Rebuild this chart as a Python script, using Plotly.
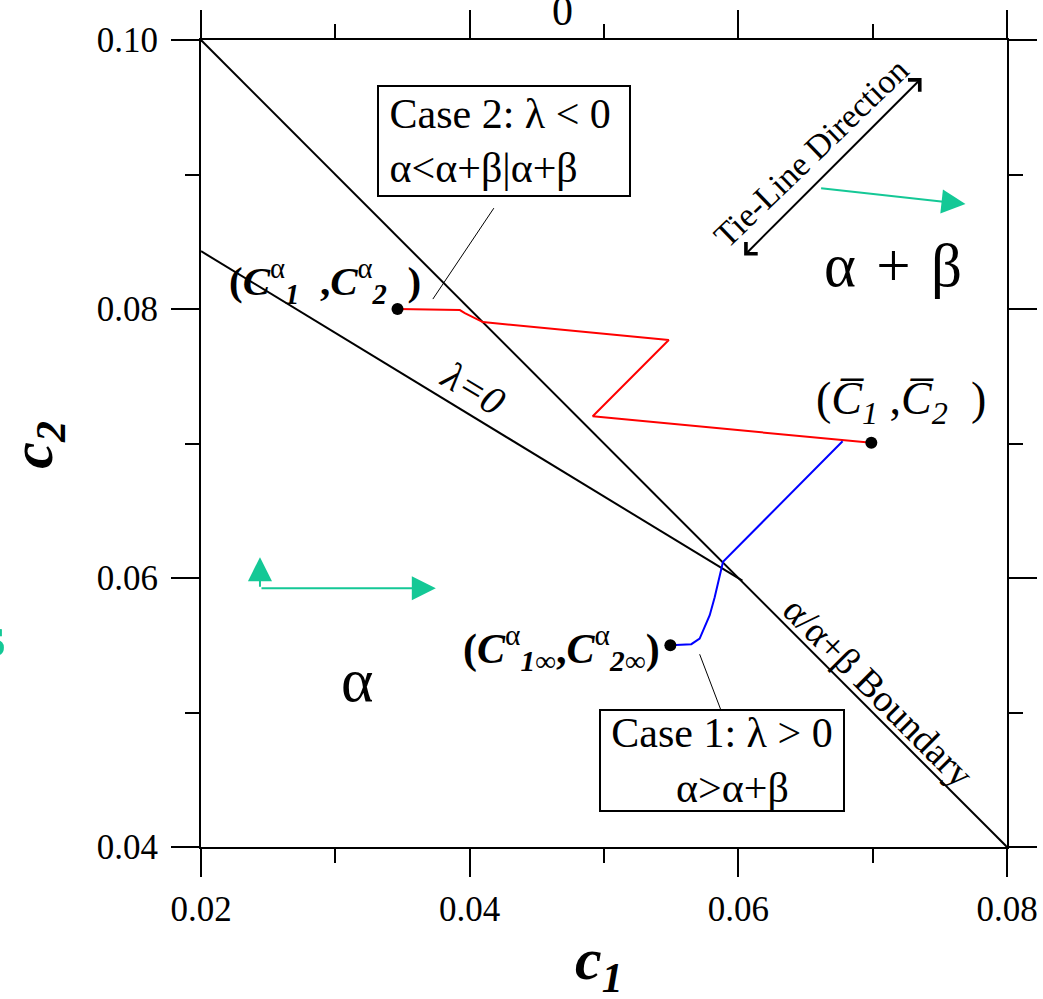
import plotly.graph_objects as go

# Phase boundary and lambda = 0 line (c1, c2)
boundary_c1 = [0.02, 0.08]
boundary_c2 = [0.10, 0.04]
lambda0_c1 = [0.02, 0.0603]
lambda0_c2 = [0.0843, 0.0598]

# Case 2 path (red) and Case 1 path (blue)
red_c1 = [0.03463, 0.03927, 0.03964, 0.04098, 0.05482, 0.04916, 0.06990]
red_c2 = [0.08000, 0.07992, 0.07970, 0.07903, 0.07769, 0.07203, 0.07005]
blue_c1 = [0.05494, 0.05650, 0.05712, 0.05750, 0.05787, 0.05824, 0.05854, 0.05886, 0.06776]
blue_c2 = [0.05500, 0.05508, 0.05550, 0.05632, 0.05723, 0.05857, 0.05984, 0.06120, 0.07017]

# Marked compositions
point_c1 = [0.03463, 0.06990, 0.05494]
point_c2 = [0.08000, 0.07005, 0.05500]

x_ticks = [0.02, 0.04, 0.06, 0.08]
x_ticktext = ["0.02", "0.04", "0.06", "0.08"]
y_ticks = [0.04, 0.06, 0.08, 0.10]
y_ticktext = ["0.04", "0.06", "0.08", "0.10"]
x_minor = [0.03, 0.05, 0.07]
y_minor = [0.05, 0.07, 0.09]

FONT = "Liberation Serif"
TEAL = "rgb(20,200,150)"
NB = "\u00a0"
SP3 = "\u2004"

fig = go.Figure()
fig.add_trace(go.Scatter(x=boundary_c1, y=boundary_c2, mode="lines",
                         line=dict(color="black", width=2), hoverinfo="skip"))
fig.add_trace(go.Scatter(x=lambda0_c1, y=lambda0_c2, mode="lines",
                         line=dict(color="black", width=2), hoverinfo="skip"))
fig.add_trace(go.Scatter(x=red_c1, y=red_c2, mode="lines",
                         line=dict(color="red", width=2)))
fig.add_trace(go.Scatter(x=blue_c1, y=blue_c2, mode="lines",
                         line=dict(color="blue", width=2)))
fig.add_trace(go.Scatter(x=point_c1, y=point_c2, mode="markers",
                         marker=dict(color="black", size=12)))

ann = []

def text(x, y, s, size, angle=0, color="black", **kw):
    d = dict(x=x, y=y, xref="x", yref="y", text=s, showarrow=False,
             textangle=angle, font=dict(family=FONT, size=size, color=color),
             xanchor="center", yanchor="middle")
    d.update(kw)
    ann.append(d)

def arrow(x0, y0, x1, y1, color, width, head, size, side="end"):
    ann.append(dict(x=x1, y=y1, ax=x0, ay=y0, xref="x", yref="y",
                    axref="x", ayref="y", text="", showarrow=True,
                    arrowcolor=color, arrowwidth=width, arrowhead=head,
                    startarrowhead=head, arrowsize=size, startarrowsize=size,
                    arrowside=side, standoff=0, startstandoff=0))

# Point labels
text(0.02922, 0.08208,
     "<b>(<i>C</i></b><sup>α</sup><sub><b><i>1</i></b></sub><b>" + NB + NB + ",<i>C</i></b>"
     "<sup>α</sup><sub><b><i>2</i></b></sub><b>" + NB + NB + ")</b>", 41)
text(0.07208, 0.07308,
     "(<i>C\u0305</i><sub><i>1</i></sub>" + NB + ",<i>C\u0305</i><sub><i>2</i></sub>" + NB + NB + ")", 46)
text(0.04680, 0.05478,
     "<b>(<i>C</i></b><sup>α</sup><sub><b><i>1∞</i></b></sub><b>,<i>C</i></b>"
     "<sup>α</sup><sub><b><i>2∞</i></b></sub><b>)</b>", 42)

# Region labels
text(0.03161, 0.05240, "α", 62)
text(0.07150, 0.08320, "α" + SP3 + "+" + SP3 + "β", 61)
text(0.04030, 0.07412, "<i>λ=0</i>", 40, angle=31)
text(0.07044, 0.05151, "α/α+β Boundary", 38, angle=45)
text(0.06545, 0.09160, "Tie-Line Direction", 34, angle=-44)

# Case boxes
text(0.04254, 0.09249, NB + "Case 2: λ < 0<br>" + NB + "α<α+β|α+β", 42, align="left",
     bordercolor="black", borderwidth=2, borderpad=0, width=250, height=108,
     bgcolor="white")
text(0.05876, 0.04641, "Case 1: λ > 0<br>" + NB + NB + "α>α+β", 42, align="center",
     bordercolor="black", borderwidth=2, borderpad=0, width=242, height=99,
     bgcolor="white")

# Arrows
arrow(0.06605, 0.08899, 0.07691, 0.08780, TEAL, 2, 2, 2.4)
arrow(0.02439, 0.05924, 0.02439, 0.06155, TEAL, 2, 2, 2.4)
arrow(0.02439, 0.05924, 0.03748, 0.05924, TEAL, 2, 2, 2.4)
arrow(0.06032, 0.08386, 0.07364, 0.09717, "black", 2, 4, 1.6, side="end+start")

# Axis titles and edge text
ann.append(dict(x=0.4938, y=-0.144, xref="paper", yref="paper", showarrow=False,
                text="<b><i>c<sub>1</sub></i></b>", font=dict(family=FONT, size=60, color="black"),
                xanchor="center", yanchor="middle"))
ann.append(dict(x=-0.2040, y=0.4980, xref="paper", yref="paper", showarrow=False,
                text="<b><i>c<sub>2</sub></i></b>", textangle=-90,
                font=dict(family=FONT, size=60, color="black"),
                xanchor="center", yanchor="middle"))
ann.append(dict(x=0.4479, y=1.0359, xref="paper", yref="paper", showarrow=False,
                text="0", font=dict(family=FONT, size=42, color="black"),
                xanchor="center", yanchor="middle"))
ann.append(dict(x=-0.2575, y=0.2615, xref="paper", yref="paper", showarrow=False,
                text="<b>s</b>", font=dict(family=FONT, size=60, color=TEAL),
                xanchor="center", yanchor="middle"))

# Leader lines from case boxes
shapes = [
    dict(type="line", xref="x", yref="y", x0=0.0418, y0=0.0875, x1=0.03726, y1=0.08074,
         line=dict(color="black", width=1)),
    dict(type="line", xref="x", yref="y", x0=0.05712, y0=0.05433, x1=0.05868, y1=0.05024,
         line=dict(color="black", width=1)),
]

axis_common = dict(showgrid=False, zeroline=False, showline=True, linecolor="black",
                   linewidth=2, mirror="allticks", ticks="outside", ticklen=28,
                   tickwidth=2, tickcolor="black", automargin=False,
                   tickfont=dict(family=FONT, size=35, color="black"))

fig.update_layout(
    width=1043, height=999,
    margin=dict(l=201, r=36, t=40, b=152, autoexpand=False),
    font=dict(family=FONT, color="black"),
    paper_bgcolor="white", plot_bgcolor="white",
    showlegend=False,
    annotations=ann, shapes=shapes,
    xaxis=dict(range=[0.02, 0.08], tickvals=x_ticks, ticktext=x_ticktext,
               minor=dict(tickvals=x_minor, ticks="outside", ticklen=14, tickwidth=2,
                          tickcolor="black"),
               ticklabelstandoff=2, **axis_common),
    yaxis=dict(range=[0.04, 0.10], tickvals=y_ticks, ticktext=y_ticktext,
               minor=dict(tickvals=y_minor, ticks="outside", ticklen=14, tickwidth=2,
                          tickcolor="black"),
               ticklabelstandoff=6, **axis_common),
)

fig.write_html("out.html")
